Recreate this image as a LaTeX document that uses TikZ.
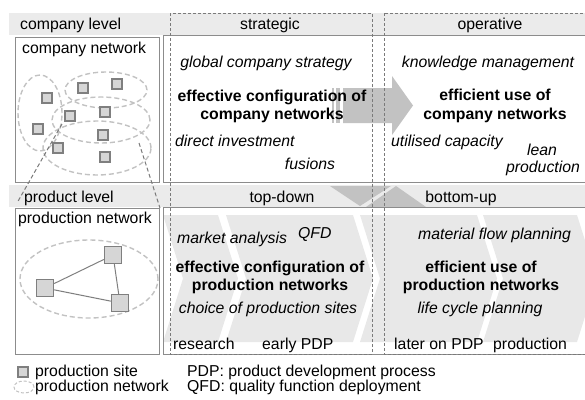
\documentclass[tikz,border=0pt]{standalone}
\usepackage{fontspec}
\setmainfont{Liberation Sans}
\usepackage{xcolor}
\definecolor{net-band}{HTML}{EBEBEB}
\definecolor{net-chevron}{HTML}{E8E8E8}
\definecolor{net-arrow}{HTML}{C2C2C2}
\definecolor{net-line}{HTML}{8C8C8C}
\definecolor{net-dash}{HTML}{7A7A7A}
\definecolor{net-ring}{HTML}{C2C2C2}
\definecolor{net-site}{HTML}{D6D6D6}
\definecolor{net-edge}{HTML}{7F7F7F}
\usepackage{tikz}

\tikzset{
  lbl/.style={inner sep=0pt, anchor=base west, font=\fontsize{15.8}{18}\selectfont},
  lblc/.style={lbl, anchor=base},
  keyword/.style={lblc, font=\fontsize{15.8}{18}\selectfont\bfseries},
  activity/.style={lbl, font=\fontsize{15.8}{18}\selectfont\itshape},
  site/.style={draw=net-edge, fill=net-site, line width=1.4pt, minimum size=10pt, inner sep=0pt},
  bigsite/.style={site, minimum size=17pt},
  ring/.style={draw=net-ring, line width=1.4pt, dash pattern=on 5pt off 3pt},
  column/.style={draw=net-dash, line width=1pt, dash pattern=on 3pt off 2pt},
  panel/.style={draw=net-line, line width=0.9pt},
}

\begin{document}
\begin{tikzpicture}[x=1pt, y=-1pt]
    \useasboundingbox (0,0) rectangle (585,399);
    \clip (0,0) rectangle (585,399);

    % Header bands
    \fill[net-band] (9,13) rectangle (585,35);
    \fill[net-band] (9,185) rectangle (585,207);

    % Process chevrons
    \foreach \xa/\xb in {163/218, 226/353, 360/477, 483/577}
        \fill[net-chevron] (\xa,215) -- (\xb,215) -- (\xb+20,278.5) -- (\xb,342)
            -- (\xa,342) -- (\xa+20,278.5) -- cycle;

    % Arrow strategic -> operative
    \fill[net-arrow] (343,88) -- (392,88) -- (392,76) -- (413,105.5) -- (392,135)
        -- (392,123) -- (343,123) -- cycle;
    \fill[net-arrow] (336,88) rectangle (340,123);
    \fill[net-arrow] (331.5,88) rectangle (333.5,123);

    % Top-down / bottom-up wedges
    \fill[net-arrow] (330,186) -- (391,186) -- (360,206) -- cycle;
    \fill[net-arrow] (396,186) -- (426,207) -- (366,207) -- cycle;

    % Panels
    \draw[panel] (15,37) rectangle (159,182);
    \draw[panel] (15,208) rectangle (159,354);
    \draw[panel] (163,35) rectangle (590,182);
    \draw[panel] (163,207) rectangle (590,354);

    % Columns
    \draw[column] (170,13) rectangle (372,354);
    \draw[column] (384,13) rectangle (600,354);

    % Company network
    \draw[ring] (40,113) ellipse[x radius=22pt, y radius=38pt];
    \draw[ring] (106,90) ellipse[x radius=41pt, y radius=18pt];
    \draw[ring] (101,120) ellipse[x radius=49pt, y radius=23pt];
    \draw[ring] (97,148) ellipse[x radius=54pt, y radius=27pt];
    \node[site] (c1) at (47,98) {};
    \node[site] (c2) at (83,88) {};
    \node[site] (c3) at (117,84) {};
    \node[site] (c4) at (70,116) {};
    \node[site] (c5) at (105,112) {};
    \node[site] (c6) at (38,129) {};
    \node[site] (c7) at (103,135) {};
    \node[site] (c8) at (58,148) {};
    \node[site] (c9) at (105,157) {};

    % Zoom lines
    \coordinate (zoomLa) at (62,124);
    \coordinate (zoomLb) at (17,203);
    \coordinate (zoomRa) at (139,143);
    \coordinate (zoomRb) at (160,208);
    \draw[net-dash, line width=1pt, dash pattern=on 4pt off 2.5pt] (zoomLa) -- (zoomLb);
    \draw[net-dash, line width=1pt, dash pattern=on 4pt off 2.5pt] (zoomRa) -- (zoomRb);

    % Production network
    \draw[ring] (89,279) ellipse[x radius=69pt, y radius=39pt];
    \node[bigsite] (p1) at (113,255) {};
    \node[bigsite] (p2) at (45,288) {};
    \node[bigsite] (p3) at (120,303) {};
    \draw[net-edge, line width=1pt] (p1) -- (p2);
    \draw[net-edge, line width=1pt] (p2) -- (p3);
    \draw[net-edge, line width=1pt] (p3) -- (p1);

    % Headers
    \node[lbl] (hcomp) at (20,29) {company level};
    \node[lblc] (hstrat) at (270,29) {strategic};
    \node[lblc] (hoper) at (490,29) {operative};
    \node[lbl] (hprod) at (24,202) {product level};
    \node[lblc] (htop) at (282,202) {top-down};
    \node[lblc] (hbot) at (461,202) {bottom-up};
    \node[lbl] (tcnet) at (22,53) {company network};
    \node[lbl] (tpnet) at (18,223) {production network};

    % Company level contents
    \node[activity, anchor=base] (global) at (266,67) {global company strategy};
    \node[keyword] (cfgA) at (272,101) {effective configuration of};
    \node[keyword] (cfgB) at (272,119) {company networks};
    \node[activity] (invest) at (175,146) {direct investment};
    \node[activity, anchor=base] (fusion) at (310,169) {fusions};
    \node[activity, anchor=base] (know) at (488,67) {knowledge management};
    \node[keyword] (useA) at (495,100) {efficient use of};
    \node[keyword] (useB) at (495,119) {company networks};
    \node[activity] (capac) at (391,146) {utilised capacity};
    \node[activity, anchor=base] (leanA) at (542,155) {lean};
    \node[activity, anchor=base] (leanB) at (543,172) {production};

    % Product level contents
    \node[activity] (market) at (177,243) {market analysis};
    \node[activity] (qfd) at (298,238) {QFD};
    \node[activity] (flow) at (418,239) {material flow planning};
    \node[keyword] (pcfgA) at (270,272) {effective configuration of};
    \node[keyword] (pcfgB) at (270,290) {production networks};
    \node[keyword] (puseA) at (481,272) {efficient use of};
    \node[keyword] (puseB) at (481,290) {production networks};
    \node[activity, anchor=base] (choice) at (268,313) {choice of production sites};
    \node[activity, anchor=base] (cycle) at (480,313) {life cycle planning};
    \node[lbl] (sres) at (173,349) {research};
    \node[lbl] (searly) at (262,349) {early PDP};
    \node[lbl] (slater) at (394,349) {later on PDP};
    \node[lbl] (sprod) at (493,349) {production};

    % Legend
    \node[site] (keysite) at (23,372) {};
    \draw[ring, line width=1pt, dash pattern=on 3pt off 2pt] (24,387) ellipse[x radius=10pt, y radius=6pt];
    \node[lbl] (ksite) at (35,376) {production site};
    \node[lbl] (knet) at (35,391) {production network};
    \node[lbl] (kpdp) at (187,376) {PDP: product development process};
    \node[lbl] (kqfd) at (187,391) {QFD: quality function deployment};

\end{tikzpicture}
\end{document}
